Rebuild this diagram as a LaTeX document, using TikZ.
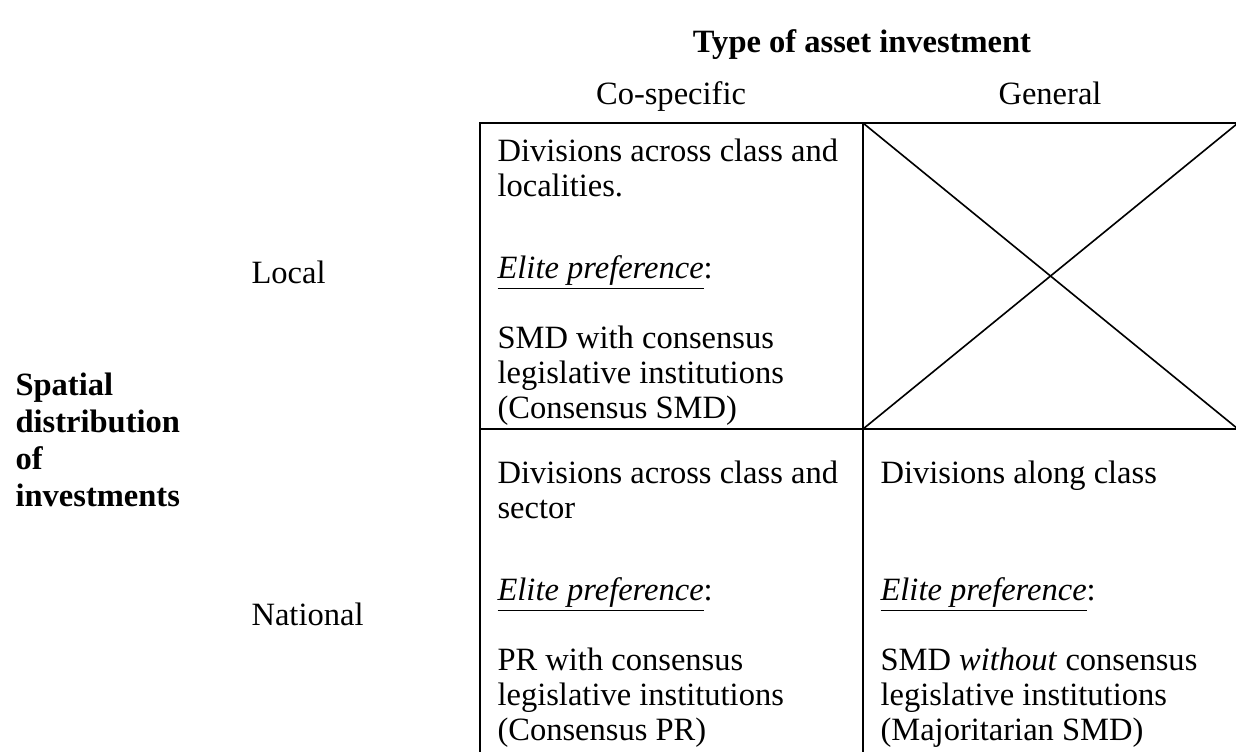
\documentclass[tikz,border=0pt]{standalone}
\usepackage{fontspec}
\setmainfont{Liberation Serif}
\usepackage{xcolor}
\usepackage{tikz}

\tikzset{
    celltext/.style={anchor=base west, inner sep=0pt},
    headtext/.style={anchor=base, inner sep=0pt},
    gridline/.style={line width=0.75pt},
    crossline/.style={line width=0.6pt}
}

\newcommand{\elitepref}{\underline{\textit{Elite preference}}:}

\begin{document}
\begin{tikzpicture}[x=0.369pt, y=-0.369pt, font=\fontsize{12pt}{13pt}\selectfont]
    \useasboundingbox (0,0) rectangle (1236,751);
    \clip (0,0) rectangle (1236,751);

    % table corners
    \coordinate (a) at (480, 123);
    \coordinate (b) at (863, 123);
    \coordinate (c) at (1238, 123);
    \coordinate (d) at (480, 429);
    \coordinate (e) at (863, 429);
    \coordinate (f) at (1238, 429);
    \coordinate (g) at (480, 800);
    \coordinate (h) at (863, 800);
    \coordinate (i) at (1238, 800);

    \draw [gridline] (a) -- (c) -- (i) -- (g) -- cycle;
    \draw [gridline] (b) -- (h);
    \draw [gridline] (d) -- (f);
    \draw [crossline] (b) -- (f);
    \draw [crossline] (c) -- (e);

    \node (type) at (862, 52) [headtext, font=\fontsize{12pt}{13pt}\selectfont\bfseries] {Type of asset investment};
    \node (cospec) at (671, 104) [headtext] {Co-specific};
    \node (general) at (1050, 104) [headtext] {General};

    \node (local) at (251, 283) [celltext] {Local};
    \node (national) at (251, 625) [celltext] {National};

    \foreach \t [count=\k] in {Spatial, distribution, of, investments} {
        \node (sp\k) at (15, 358 + 37*\k) [celltext, font=\fontsize{12pt}{13pt}\selectfont\bfseries] {\t};
    }

    % upper left cell
    \node (ul1) at (497, 161) [celltext] {Divisions across class and};
    \node (ul2) at (497, 196) [celltext] {localities.};
    \node (ul3) at (497, 278) [celltext] {\elitepref};
    \node (ul4) at (497, 348) [celltext] {SMD with consensus};
    \node (ul5) at (497, 383) [celltext] {legislative institutions};
    \node (ul6) at (497, 418) [celltext] {(Consensus SMD)};

    % lower left cell
    \node (ll1) at (497, 483) [celltext] {Divisions across class and};
    \node (ll2) at (497, 518) [celltext] {sector};
    \node (ll3) at (497, 600) [celltext] {\elitepref};
    \node (ll4) at (497, 670) [celltext] {PR with consensus};
    \node (ll5) at (497, 705) [celltext] {legislative institutions};
    \node (ll6) at (497, 740) [celltext] {(Consensus PR)};

    % lower right cell
    \node (lr1) at (880, 483) [celltext] {Divisions along class};
    \node (lr3) at (880, 600) [celltext] {\elitepref};
    \node (lr4) at (880, 670) [celltext] {SMD \textit{without} consensus};
    \node (lr5) at (880, 705) [celltext] {legislative institutions};
    \node (lr6) at (880, 740) [celltext] {(Majoritarian SMD)};
\end{tikzpicture}
\end{document}
